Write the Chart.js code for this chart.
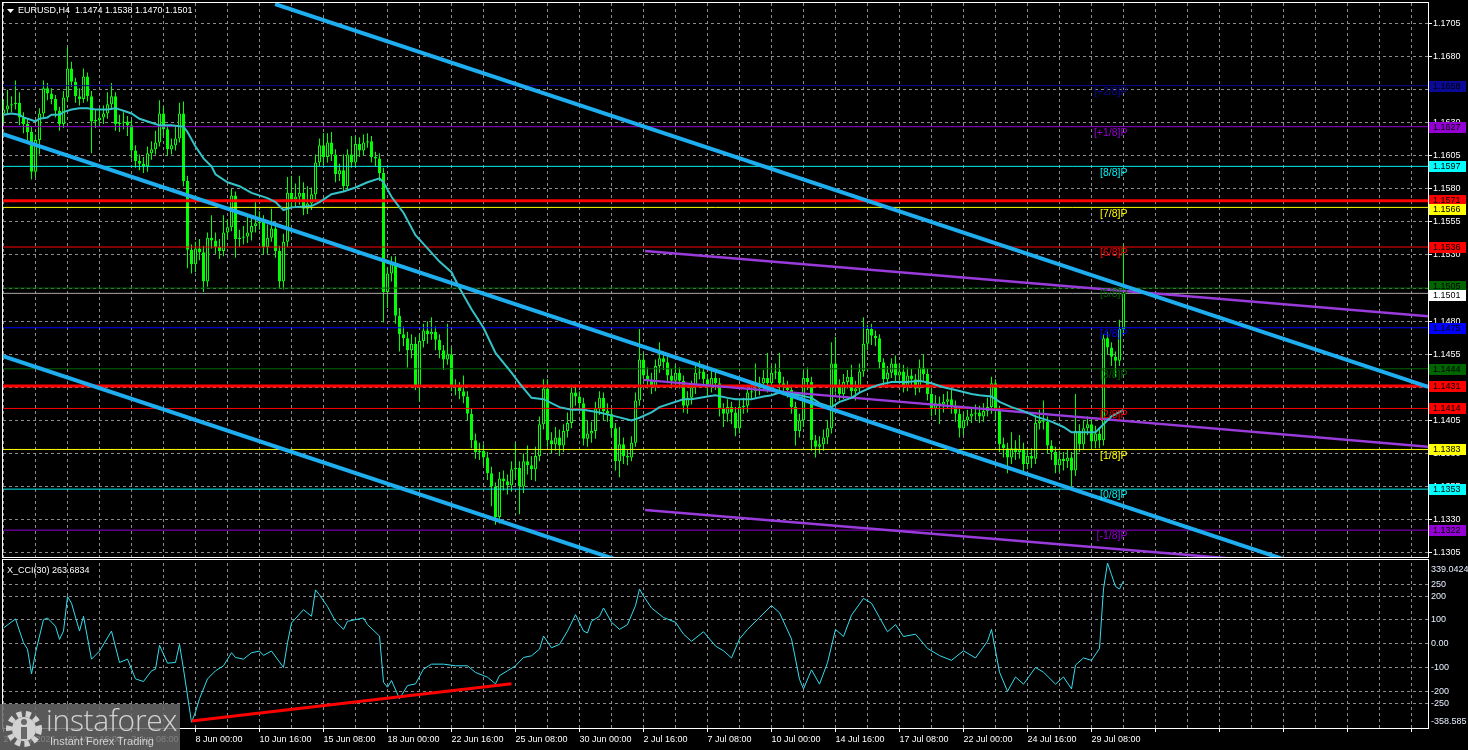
<!DOCTYPE html>
<html>
<head>
<meta charset="utf-8">
<script src="https://cdn.jsdelivr.net/npm/chart.js@4.4.1/dist/chart.umd.min.js"></script>
<style>
  html, body { margin: 0; padding: 0; background: #000; overflow: hidden; }
  #wrap { position: relative; width: 1468px; height: 750px; background: #000; }
  #priceCanvas { position: absolute; left: 0; top: 0; }
  #cciCanvas { position: absolute; left: 0; top: 559px; }
  #wm { position: absolute; left: 0; top: 704px; width: 180px; height: 46px; background: rgba(104,104,104,0.85); }
  #wm svg { position: absolute; left: 4px; top: 5px; }
  #wm .big { position: absolute; left: 46px; top: -5px; font: 300 30px 'Open Sans', sans-serif; color: #d2d2d2; letter-spacing: -0.3px; }
  #wm .small { position: absolute; left: 50px; top: 31px; font: 11px 'Liberation Sans', Arial, sans-serif; color: #d2d2d2; }
</style>
</head>
<body>
<div id="wrap">
  <canvas id="priceCanvas" width="1468" height="559"></canvas>
  <canvas id="cciCanvas" width="1468" height="191"></canvas>
  <div id="wm">
    <svg width="40" height="40" viewBox="0 0 40 40">
      <circle cx="20" cy="20" r="15" fill="none" stroke="#d2d2d2" stroke-width="6" stroke-dasharray="5 4"/>
      <circle cx="20" cy="20" r="12" fill="#d2d2d2"/>
      <circle cx="20" cy="13" r="3" fill="#686868"/>
      <rect x="17" y="18" width="6" height="12" fill="#686868"/>
    </svg>
    <div class="big">instaforex</div>
    <div class="small">Instant Forex Trading</div>
  </div>
</div>
<script>
// ======================================================
// DATA - EURUSD H4 (bar 0 = 27 May 00:00 ... bar 280 = 30 Jul 16:00)
// ======================================================
const symbol = 'EURUSD', period = 'H4';

const opens = [
  1.1637,1.1640,1.1643,1.1644,1.1645,1.1634,1.1629,1.1623,1.1593,1.1617,
  1.1637,1.1656,1.1652,1.1648,1.1639,1.1629,1.1649,1.1671,1.1661,1.1650,
  1.1648,1.1665,1.1650,1.1631,1.1632,1.1634,1.1637,1.1644,1.1650,1.1629,
  1.1630,1.1631,1.1628,1.1609,1.1601,1.1599,1.1597,1.1607,1.1610,1.1615,
  1.1637,1.1625,1.1610,1.1613,1.1618,1.1637,1.1586,1.1534,1.1523,1.1535,
  1.1532,1.1510,1.1543,1.1541,1.1536,1.1533,1.1547,1.1551,1.1575,1.1542,
  1.1543,1.1544,1.1547,1.1552,1.1554,1.1555,1.1536,1.1543,1.1550,1.1533,
  1.1510,1.1540,1.1577,1.1572,1.1574,1.1577,1.1565,1.1569,1.1576,1.1600,
  1.1613,1.1604,1.1615,1.1606,1.1591,1.1594,1.1582,1.1606,1.1600,1.1614,
  1.1609,1.1615,1.1616,1.1604,1.1603,1.1592,1.1502,1.1516,1.1523,1.1484,
  1.1470,1.1467,1.1458,1.1463,1.1431,1.1465,1.1473,1.1470,1.1472,1.1466,
  1.1458,1.1451,1.1455,1.1431,1.1430,1.1427,1.1423,1.1410,1.1390,1.1381,
  1.1382,1.1377,1.1365,1.1355,1.1332,1.1361,1.1359,1.1356,1.1368,1.1369,
  1.1355,1.1374,1.1371,1.1368,1.1378,1.1402,1.1429,1.1390,1.1387,1.1392,
  1.1386,1.1397,1.1403,1.1426,1.1423,1.1418,1.1391,1.1395,1.1397,1.1414,
  1.1422,1.1412,1.1410,1.1399,1.1374,1.1387,1.1378,1.1377,1.1388,1.1420,
  1.1451,1.1439,1.1435,1.1431,1.1446,1.1452,1.1449,1.1439,1.1435,1.1441,
  1.1435,1.1416,1.1422,1.1430,1.1441,1.1442,1.1436,1.1431,1.1437,1.1433,
  1.1414,1.1410,1.1415,1.1411,1.1399,1.1415,1.1416,1.1426,1.1427,1.1429,
  1.1433,1.1437,1.1433,1.1441,1.1442,1.1433,1.1430,1.1428,1.1415,1.1397,
  1.1405,1.1437,1.1434,1.1390,1.1385,1.1387,1.1392,1.1399,1.1448,1.1431,
  1.1425,1.1434,1.1438,1.1427,1.1429,1.1442,1.1463,1.1474,1.1469,1.1467,
  1.1449,1.1436,1.1441,1.1448,1.1439,1.1442,1.1431,1.1439,1.1436,1.1429,
  1.1445,1.1440,1.1425,1.1414,1.1418,1.1417,1.1419,1.1421,1.1416,1.1410,
  1.1399,1.1405,1.1408,1.1410,1.1411,1.1408,1.1412,1.1415,1.1433,1.1412,
  1.1387,1.1384,1.1377,1.1384,1.1381,1.1383,1.1372,1.1378,1.1376,1.1403,
  1.1405,1.1404,1.1386,1.1381,1.1371,1.1376,1.1374,1.1377,1.1367,1.1397,
  1.1387,1.1399,1.1402,1.1389,1.1395,1.1390,1.1467,1.1460,1.1453,1.1450,
  1.1474
];
const highs = [
  1.1648,1.1655,1.1650,1.1662,1.1653,1.1638,1.1633,1.1627,1.1621,1.1641,
  1.1662,1.1660,1.1656,1.1651,1.1642,1.1654,1.1687,1.1676,1.1664,1.1656,
  1.1671,1.1668,1.1654,1.1640,1.1641,1.1643,1.1653,1.1660,1.1653,1.1636,
  1.1638,1.1635,1.1632,1.1613,1.1606,1.1604,1.1612,1.1616,1.1624,1.1647,
  1.1642,1.1628,1.1618,1.1627,1.1645,1.1646,1.1590,1.1538,1.1540,1.1542,
  1.1537,1.1547,1.1560,1.1547,1.1542,1.1560,1.1557,1.1580,1.1578,1.1549,
  1.1552,1.1560,1.1559,1.1570,1.1563,1.1560,1.1553,1.1565,1.1555,1.1537,
  1.1546,1.1589,1.1590,1.1584,1.1590,1.1585,1.1582,1.1581,1.1606,1.1618,
  1.1622,1.1622,1.1623,1.1610,1.1599,1.1606,1.1610,1.1620,1.1620,1.1619,
  1.1621,1.1622,1.1620,1.1608,1.1607,1.1596,1.1521,1.1529,1.1529,1.1490,
  1.1476,1.1472,1.1470,1.1468,1.1470,1.1478,1.1480,1.1483,1.1476,1.1470,
  1.1462,1.1478,1.1460,1.1436,1.1434,1.1439,1.1427,1.1414,1.1395,1.1388,
  1.1387,1.1381,1.1370,1.1358,1.1366,1.1367,1.1364,1.1374,1.1388,1.1374,
  1.1380,1.1386,1.1378,1.1385,1.1408,1.1436,1.1436,1.1396,1.1400,1.1398,
  1.1402,1.1411,1.1432,1.1432,1.1427,1.1422,1.1405,1.1404,1.1419,1.1427,
  1.1426,1.1418,1.1414,1.1403,1.1400,1.1392,1.1383,1.1393,1.1426,1.1474,
  1.1456,1.1445,1.1441,1.1451,1.1464,1.1457,1.1453,1.1444,1.1447,1.1445,
  1.1439,1.1427,1.1435,1.1446,1.1450,1.1447,1.1440,1.1444,1.1442,1.1437,
  1.1418,1.1421,1.1419,1.1415,1.1420,1.1422,1.1431,1.1434,1.1448,1.1438,
  1.1443,1.1456,1.1446,1.1448,1.1456,1.1438,1.1435,1.1432,1.1419,1.1410,
  1.1442,1.1445,1.1438,1.1394,1.1393,1.1398,1.1405,1.1464,1.1468,1.1436,
  1.1440,1.1443,1.1447,1.1435,1.1448,1.1483,1.1477,1.1478,1.1473,1.1470,
  1.1452,1.1446,1.1452,1.1454,1.1448,1.1447,1.1445,1.1444,1.1440,1.1451,
  1.1455,1.1444,1.1429,1.1424,1.1423,1.1425,1.1427,1.1428,1.1420,1.1414,
  1.1411,1.1413,1.1415,1.1417,1.1416,1.1418,1.1422,1.1438,1.1436,1.1416,
  1.1392,1.1388,1.1396,1.1390,1.1394,1.1388,1.1384,1.1384,1.1409,1.1413,
  1.1420,1.1408,1.1390,1.1385,1.1382,1.1381,1.1383,1.1381,1.1425,1.1402,
  1.1405,1.1408,1.1406,1.1401,1.1400,1.1470,1.1472,1.1464,1.1457,1.1481,
  1.1538
];
const lows = [
  1.1630,1.1636,1.1638,1.1640,1.1628,1.1622,1.1617,1.1587,1.1589,1.1606,
  1.1634,1.1647,1.1644,1.1634,1.1624,1.1626,1.1646,1.1657,1.1645,1.1643,
  1.1645,1.1646,1.1607,1.1626,1.1627,1.1629,1.1633,1.1640,1.1624,1.1623,
  1.1625,1.1620,1.1603,1.1596,1.1594,1.1592,1.1593,1.1602,1.1606,1.1612,
  1.1620,1.1605,1.1606,1.1609,1.1615,1.1582,1.1520,1.1516,1.1517,1.1526,
  1.1502,1.1506,1.1535,1.1531,1.1527,1.1529,1.1542,1.1548,1.1528,1.1536,
  1.1538,1.1539,1.1541,1.1547,1.1549,1.1530,1.1531,1.1540,1.1528,1.1505,
  1.1504,1.1536,1.1566,1.1566,1.1568,1.1560,1.1561,1.1564,1.1572,1.1597,
  1.1598,1.1600,1.1601,1.1585,1.1586,1.1578,1.1579,1.1596,1.1597,1.1604,
  1.1605,1.1611,1.1600,1.1597,1.1586,1.1479,1.1490,1.1510,1.1478,1.1457,
  1.1461,1.1445,1.1452,1.1428,1.1419,1.1460,1.1463,1.1466,1.1458,1.1452,
  1.1443,1.1447,1.1427,1.1424,1.1421,1.1418,1.1405,1.1384,1.1376,1.1375,
  1.1371,1.1360,1.1340,1.1326,1.1327,1.1352,1.1349,1.1351,1.1361,1.1334,
  1.1350,1.1364,1.1360,1.1359,1.1374,1.1398,1.1385,1.1380,1.1382,1.1378,
  1.1381,1.1392,1.1399,1.1416,1.1413,1.1386,1.1385,1.1388,1.1391,1.1409,
  1.1405,1.1404,1.1393,1.1367,1.1362,1.1372,1.1371,1.1374,1.1385,1.1416,
  1.1434,1.1429,1.1425,1.1427,1.1441,1.1443,1.1433,1.1429,1.1430,1.1429,
  1.1411,1.1410,1.1417,1.1425,1.1436,1.1431,1.1424,1.1426,1.1428,1.1408,
  1.1400,1.1404,1.1402,1.1393,1.1395,1.1410,1.1411,1.1421,1.1422,1.1424,
  1.1428,1.1426,1.1427,1.1436,1.1428,1.1424,1.1422,1.1410,1.1386,1.1392,
  1.1400,1.1428,1.1382,1.1377,1.1380,1.1382,1.1387,1.1395,1.1426,1.1420,
  1.1421,1.1429,1.1423,1.1420,1.1425,1.1438,1.1458,1.1462,1.1461,1.1444,
  1.1430,1.1432,1.1437,1.1434,1.1435,1.1426,1.1427,1.1431,1.1424,1.1426,
  1.1435,1.1420,1.1408,1.1409,1.1402,1.1411,1.1414,1.1410,1.1404,1.1392,
  1.1394,1.1401,1.1403,1.1405,1.1403,1.1404,1.1408,1.1410,1.1405,1.1381,
  1.1377,1.1365,1.1372,1.1375,1.1376,1.1366,1.1368,1.1369,1.1372,1.1398,
  1.1398,1.1380,1.1375,1.1365,1.1366,1.1367,1.1369,1.1355,1.1363,1.1381,
  1.1383,1.1394,1.1383,1.1384,1.1384,1.1386,1.1455,1.1446,1.1438,1.1446,
  1.1470
];
const closes = [
  1.1640,1.1643,1.1644,1.1645,1.1634,1.1629,1.1623,1.1593,1.1617,1.1637,
  1.1656,1.1652,1.1648,1.1639,1.1629,1.1649,1.1671,1.1661,1.1650,1.1648,
  1.1665,1.1650,1.1631,1.1632,1.1634,1.1637,1.1644,1.1650,1.1629,1.1630,
  1.1631,1.1628,1.1609,1.1601,1.1599,1.1597,1.1607,1.1610,1.1615,1.1637,
  1.1625,1.1610,1.1613,1.1618,1.1637,1.1586,1.1534,1.1523,1.1535,1.1532,
  1.1510,1.1543,1.1541,1.1536,1.1533,1.1547,1.1551,1.1575,1.1542,1.1543,
  1.1544,1.1547,1.1552,1.1554,1.1555,1.1536,1.1543,1.1550,1.1533,1.1510,
  1.1540,1.1577,1.1572,1.1574,1.1577,1.1565,1.1569,1.1576,1.1600,1.1613,
  1.1604,1.1615,1.1606,1.1591,1.1594,1.1582,1.1606,1.1600,1.1614,1.1609,
  1.1615,1.1616,1.1604,1.1603,1.1592,1.1502,1.1516,1.1523,1.1484,1.1470,
  1.1467,1.1458,1.1463,1.1431,1.1465,1.1473,1.1470,1.1472,1.1466,1.1458,
  1.1451,1.1455,1.1431,1.1430,1.1427,1.1423,1.1410,1.1390,1.1381,1.1382,
  1.1377,1.1365,1.1355,1.1332,1.1361,1.1359,1.1356,1.1368,1.1369,1.1355,
  1.1374,1.1371,1.1368,1.1378,1.1402,1.1429,1.1390,1.1387,1.1392,1.1386,
  1.1397,1.1403,1.1426,1.1423,1.1418,1.1391,1.1395,1.1397,1.1414,1.1422,
  1.1412,1.1410,1.1399,1.1374,1.1387,1.1378,1.1377,1.1388,1.1420,1.1451,
  1.1439,1.1435,1.1431,1.1446,1.1452,1.1449,1.1439,1.1435,1.1441,1.1435,
  1.1416,1.1422,1.1430,1.1441,1.1442,1.1436,1.1431,1.1437,1.1433,1.1414,
  1.1410,1.1415,1.1411,1.1399,1.1415,1.1416,1.1426,1.1427,1.1429,1.1433,
  1.1437,1.1433,1.1441,1.1442,1.1433,1.1430,1.1428,1.1415,1.1397,1.1405,
  1.1437,1.1434,1.1390,1.1385,1.1387,1.1392,1.1399,1.1448,1.1431,1.1425,
  1.1434,1.1438,1.1427,1.1429,1.1442,1.1463,1.1474,1.1469,1.1467,1.1449,
  1.1436,1.1441,1.1448,1.1439,1.1442,1.1431,1.1439,1.1436,1.1429,1.1445,
  1.1440,1.1425,1.1414,1.1418,1.1417,1.1419,1.1421,1.1416,1.1410,1.1399,
  1.1405,1.1408,1.1410,1.1411,1.1408,1.1412,1.1415,1.1433,1.1412,1.1387,
  1.1384,1.1377,1.1384,1.1381,1.1383,1.1372,1.1378,1.1376,1.1403,1.1405,
  1.1404,1.1386,1.1381,1.1371,1.1376,1.1374,1.1377,1.1367,1.1397,1.1387,
  1.1399,1.1402,1.1389,1.1395,1.1390,1.1467,1.1460,1.1453,1.1450,1.1474,
  1.1501
];

// moving average, read at sampled bars
const maBars = [0,2,4,5,7,8,9,11,12,14,15,17,19,21,23,26,28,30,32,34,37,39,42,45,46,48,50,52,53,56,59,62,66,68,70,
  72,77,79,82,85,88,91,94,95,97,100,103,106,109,112,114,117,120,123,127,129,132,135,139,142,145,149,153,157,159,
  162,164,167,170,172,176,178,181,183,187,190,192,194,197,199,202,204,207,209,212,214,217,219,222,226,229,232,235,
  238,242,244,247,249,252,255,258,262,265,267,270,273,275,277,280];
const maValues = [1.1636,1.1637,1.1636,1.1634,1.1632,1.1631,1.1633,1.1634,1.1636,1.1636,1.1638,1.1640,1.1641,1.1641,
  1.1640,1.1640,1.1641,1.1639,1.1637,1.1633,1.1630,1.1628,1.1628,1.1627,1.1623,1.1612,1.1603,1.1597,1.1591,1.1585,
  1.1582,1.1577,1.1573,1.1570,1.1564,1.1566,1.1567,1.1570,1.1576,1.1578,1.1581,1.1585,1.1588,1.1585,1.1574,1.1562,
  1.1545,1.1535,1.1525,1.1517,1.1505,1.1489,1.1475,1.1456,1.1441,1.1433,1.1422,1.1421,1.1415,1.1413,1.1413,1.1411,
  1.1408,1.1405,1.1407,1.1411,1.1415,1.1418,1.1421,1.1421,1.1423,1.1424,1.1422,1.1421,1.1421,1.1423,1.1424,1.1426,
  1.1425,1.1424,1.1422,1.1418,1.1415,1.1419,1.1422,1.1426,1.1430,1.1432,1.1434,1.1434,1.1435,1.1433,1.1430,1.1428,
  1.1425,1.1424,1.1423,1.1419,1.1415,1.1412,1.1408,1.1404,1.1400,1.1396,1.1396,1.1396,1.1402,1.1408,1.1413];

// channel (blue) and regression (purple) lines, [bar, price] end points
const channelLines = [
  [[67.9, 1.17197], [356.2, 1.14303]],
  [[-0.9, 1.16221], [356.2, 1.12637]],
  [[-0.9, 1.14543], [152.9, 1.13000]]
];
const regressionLines = [
  [[160.4, 1.15331], [356.2, 1.14836]],
  [[159.9, 1.14356], [356.2, 1.13850]],
  [[160.4, 1.13373], [356.2, 1.12882]]
];

// Murrey levels
const murreyNames  = ['[+2/8]P','[+1/8]P','[8/8]P','[7/8]P','[6/8]P','[5/8]P','[4/8]P','[3/8]P','[2/8]P','[1/8]P','[0/8]P','[-1/8]P'];
const murreyLevels = [1.1658, 1.1627, 1.1597, 1.1566, 1.1536, 1.1505, 1.1475, 1.1444, 1.1414, 1.1383, 1.1353, 1.1322];
const resistLevels = [1.1571, 1.1431];
const bidPrice = 1.1501;

// price axis ticks
const priceTicks = [1.1705,1.1680,1.1655,1.1630,1.1605,1.1580,1.1555,1.1530,1.1505,1.1480,1.1455,1.1430,1.1405,1.1380,1.1355,1.1330,1.1305];

// time axis labels, one every 16 bars
const timeLabels = ['27 May 2026','29 May 16:00','3 Jun 08:00','8 Jun 00:00','10 Jun 16:00','15 Jun 08:00','18 Jun 00:00',
  '22 Jun 16:00','25 Jun 08:00','30 Jun 00:00','2 Jul 16:00','7 Jul 08:00','10 Jul 00:00','14 Jul 16:00','17 Jul 08:00',
  '22 Jul 00:00','24 Jul 16:00','29 Jul 08:00'];

// CCI(30), read at sampled bars
const cciBars = [0,3,5,6,7,8,10,11,13,14,15,16,17,19,20,22,24,27,29,31,33,35,37,38,39,41,43,44,45,47,48,49,51,53,55,57,58,
  60,62,64,65,67,70,71,72,75,77,78,79,81,83,85,86,90,91,94,95,96,97,99,101,103,105,107,110,113,116,118,121,123,124,126,
  128,130,132,134,135,137,139,141,143,145,146,147,149,150,152,154,156,158,159,160,162,165,168,170,172,175,178,180,182,
  184,186,189,192,194,197,199,200,202,204,206,208,210,212,215,217,219,221,223,225,228,231,234,237,240,243,246,247,249,
  251,253,255,258,260,263,265,267,268,270,272,274,275,276,277,278,279,280];
const cciValues = [66,104,4,-23,-127,-38,101,108,73,18,53,198,170,53,115,-65,-31,53,-79,-65,-148,-159,-114,-107,-7,-82,
  -79,-3,-107,-330,-287,-231,-148,-114,-93,-38,-58,-65,-38,-31,-49,-31,-100,4,87,143,115,226,205,156,94,60,94,108,80,32,
  -162,-183,-155,-231,-176,-169,-107,-86,-86,-93,-93,-121,-141,-169,-134,-114,-93,-58,-51,-23,32,-17,-3,53,122,53,45,94,
  115,150,90,60,80,160,230,200,150,110,90,40,10,50,-10,-30,-60,20,60,110,160,130,20,-150,-190,-110,-170,-80,60,30,120,
  190,170,110,50,80,30,40,-20,-50,-70,-30,-60,10,60,-120,-200,-140,-170,-100,-120,-170,-140,-190,-90,-60,-70,-20,230,
  339.0424,290,240,230,263.6834];
const cciMax = 339.0424, cciMin = -358.585;
const cciTicks = [250, 200, 100, 0, -100, -200, -250];
const cciTrend = [[47, -325], [127, -168]];

// ======================================================
// STYLE
// ======================================================
Chart.defaults.font.family = "'Liberation Sans', Arial, sans-serif";
Chart.defaults.font.size = 9;
const FONT = "9px 'Liberation Sans', Arial, sans-serif";
const GRID = '#8c8c8c';
const LIME = '#00ff00';
const murreyColors = ['#0a0a96','#9400d3','#00f0f0','#ffff00','#ff0000','#006400','#0000ff','#006400','#ff0000','#ffff00','#00f0f0','#9400d3'];
const X_MIN = -0.125, X_MAX = 356.125;      // 4px per bar, bar 0 at x=3.5
const murreyLabelBar = 281;
const TAG_GAP = 9;                            // min distance between axis price tags

const pts = arr => arr.map(p => ({ x: p[0], y: p[1] }));
const hLine = v => [{ x: X_MIN - 1, y: v }, { x: X_MAX + 1, y: v }];

const lineDs = (data, color, width, order) => ({
  type: 'line', data, borderColor: color, borderWidth: width, pointRadius: 0,
  tension: 0, fill: false, clip: 0, order
});

const timeAxis = (showLabels) => ({
  type: 'linear', min: X_MIN, max: X_MAX, offset: false,
  afterBuildTicks: s => { s.ticks = []; for (let b = 0; b <= X_MAX; b += 8) s.ticks.push({ value: b }); },
  afterFit: s => { s.height = showLabels ? 21 : 0; s.paddingLeft = 0; s.paddingRight = 0; },
  grid: {
    color: GRID, offset: false, drawTicks: showLabels, tickLength: 3,
    tickColor: c => (c.tick && c.tick.value % 16 === 0) ? '#ffffff' : 'rgba(0,0,0,0)'
  },
  border: { display: false, dash: [3, 3] },
  ticks: {
    display: showLabels, autoSkip: false, maxRotation: 0, minRotation: 0, align: 'start', padding: 2,
    color: '#ffffff', font: { size: 9 },
    callback: v => v % 16 === 0 ? (timeLabels[v / 16] || '') : ''
  }
});

// ======================================================
// PRICE PANEL
// ======================================================
const bodyData = opens.map((o, i) => {
  let lo = Math.min(o, closes[i]), hi = Math.max(o, closes[i]);
  if (hi - lo < 0.00005) { lo -= 0.00003; hi += 0.00003; }
  return { x: i, y: [lo, hi] };
});
const bodyColors = opens.map((o, i) => closes[i] > o ? '#000000' : LIME);
const wickData = highs.map((h, i) => ({ x: i, y: [lows[i], h] }));

const priceOverlay = {
  id: 'priceOverlay',
  afterDraw(chart) {
    const { ctx, chartArea: a, scales: { x, y } } = chart;
    ctx.save();

    // murrey labels
    ctx.font = "10.5px 'Liberation Sans', Arial, sans-serif";
    ctx.textAlign = 'right';
    ctx.textBaseline = 'top';
    murreyLevels.forEach((v, i) => {
      ctx.fillStyle = murreyColors[i];
      ctx.fillText(murreyNames[i], x.getPixelForValue(murreyLabelBar), y.getPixelForValue(v) + 1);
    });

    // price tags on the right axis (pushed apart where they overlap)
    const tags = [
      ...resistLevels.map(v => ({ v, bg: '#ff0000' })),
      ...murreyLevels.map((v, i) => ({ v, bg: murreyColors[i] === '#00f0f0' ? '#00ffff' : murreyColors[i] })),
      { v: bidPrice, bg: '#ffffff' }
    ].map(t => ({ ...t, py: y.getPixelForValue(t.v) }));
    const sorted = [...tags].sort((p, q) => p.py - q.py);
    for (let i = 1; i < sorted.length; i++) {
      const d = sorted[i].py - sorted[i - 1].py;
      if (d < TAG_GAP) { const s = (TAG_GAP - d) / 2; sorted[i - 1].py -= s; sorted[i].py += s; }
    }
    ctx.font = FONT;
    ctx.textAlign = 'left';
    ctx.textBaseline = 'middle';
    tags.forEach(t => {
      const py = Math.round(t.py);
      ctx.fillStyle = t.bg;
      ctx.fillRect(a.right + 1, py - 5, 37, 11);
      ctx.fillStyle = '#000';
      ctx.fillText(t.v.toFixed(4), a.right + 5, py + 0.5);
    });

    // panel frame
    ctx.strokeStyle = '#ffffff';
    ctx.lineWidth = 1;
    ctx.strokeRect(a.left - 0.5, a.top - 0.5, a.right - a.left + 1, a.bottom - a.top + 1);

    // title
    const last = closes.length - 1;
    ctx.fillStyle = '#ffffff';
    ctx.beginPath();
    ctx.moveTo(7, 9); ctx.lineTo(14, 9); ctx.lineTo(10.5, 13); ctx.closePath(); ctx.fill();
    ctx.fillText(`${symbol},${period}  ${opens[last].toFixed(4)} ${highs[last].toFixed(4)} ${lows[last].toFixed(4)} ${closes[last].toFixed(4)}`, 18, 11);
    ctx.restore();
  }
};

new Chart(document.getElementById('priceCanvas'), {
  type: 'bar',
  data: {
    datasets: [
      { type: 'bar', data: wickData, backgroundColor: LIME, borderWidth: 0, barThickness: 1,
        grouped: false, inflateAmount: 0, order: 20 },
      { type: 'bar', data: bodyData, backgroundColor: bodyColors, borderColor: LIME, borderWidth: 1,
        borderSkipped: false, barThickness: 3, grouped: false, inflateAmount: 0, order: 19 },
      ...murreyLevels.map((v, i) => lineDs(hLine(v), murreyColors[i], 1, 15)),
      ...resistLevels.map(v => lineDs(hLine(v), '#ff0000', 3, 14)),
      lineDs(hLine(bidPrice), '#a8a8a8', 1, 14),
      ...regressionLines.map(l => lineDs(pts(l), '#9a3bdb', 2.5, 12)),
      lineDs(maBars.map((b, i) => ({ x: b, y: maValues[i] })), '#33c3c8', 2, 11),
      ...channelLines.map(l => lineDs(pts(l), '#1eaef0', 4, 10))
    ]
  },
  options: {
    responsive: false, animation: false, events: [],
    layout: { padding: { left: 3, top: 3, right: 0, bottom: 2 } },
    plugins: { legend: { display: false }, tooltip: { enabled: false }, title: { display: false } },
    scales: {
      x: timeAxis(false),
      y: {
        position: 'right', min: 1.13017, max: 1.17205,
        afterBuildTicks: s => { s.ticks = priceTicks.map(v => ({ value: v })); },
        afterFit: s => { s.width = 40; s.paddingTop = 0; s.paddingBottom = 0; },
        grid: { color: GRID, tickLength: 4, tickColor: '#ffffff' },
        border: { display: false, dash: [3, 3] },
        ticks: { color: '#ffffff', padding: 1, autoSkip: false, font: { size: 9 }, callback: v => v.toFixed(4) }
      }
    }
  },
  plugins: [priceOverlay]
});

// ======================================================
// CCI PANEL
// ======================================================
const cciOverlay = {
  id: 'cciOverlay',
  afterDraw(chart) {
    const { ctx, chartArea: a } = chart;
    ctx.save();
    ctx.strokeStyle = '#ffffff';
    ctx.lineWidth = 1;
    ctx.strokeRect(a.left - 0.5, 0.5, a.right - a.left + 1, a.bottom - 1);
    ctx.font = FONT;
    ctx.textAlign = 'left';
    ctx.textBaseline = 'middle';
    ctx.fillStyle = '#ffffff';
    ctx.fillText(`X_CCI(30) ${cciValues[cciValues.length - 1].toFixed(4)}`, 7, 12);
    ctx.fillStyle = '#e8f0ff';
    ctx.fillText(String(cciMax), a.right + 3, a.top + 7);
    ctx.fillText(String(cciMin), a.right + 3, a.bottom - 7);
    ctx.restore();
  }
};

new Chart(document.getElementById('cciCanvas'), {
  type: 'line',
  data: {
    datasets: [
      lineDs(cciBars.map((b, i) => ({ x: b, y: cciValues[i] })), '#33ddee', 1, 2),
      lineDs(pts(cciTrend), '#ff0000', 3, 1)
    ]
  },
  options: {
    responsive: false, animation: false, events: [],
    layout: { padding: { left: 3, top: 4, right: 0, bottom: 0 } },
    plugins: { legend: { display: false }, tooltip: { enabled: false } },
    scales: {
      x: timeAxis(true),
      y: {
        position: 'right', min: cciMin, max: cciMax,
        afterBuildTicks: s => { s.ticks = cciTicks.map(v => ({ value: v })); },
        afterFit: s => { s.width = 40; s.paddingTop = 0; s.paddingBottom = 0; },
        grid: { color: GRID, drawTicks: false },
        border: { display: false, dash: [3, 3] },
        ticks: { color: '#e8f0ff', padding: 3, autoSkip: false, font: { size: 9 },
          callback: v => v === 0 ? '0.00' : String(v) }
      }
    }
  },
  plugins: [cciOverlay]
});
</script>
</body>
</html>
